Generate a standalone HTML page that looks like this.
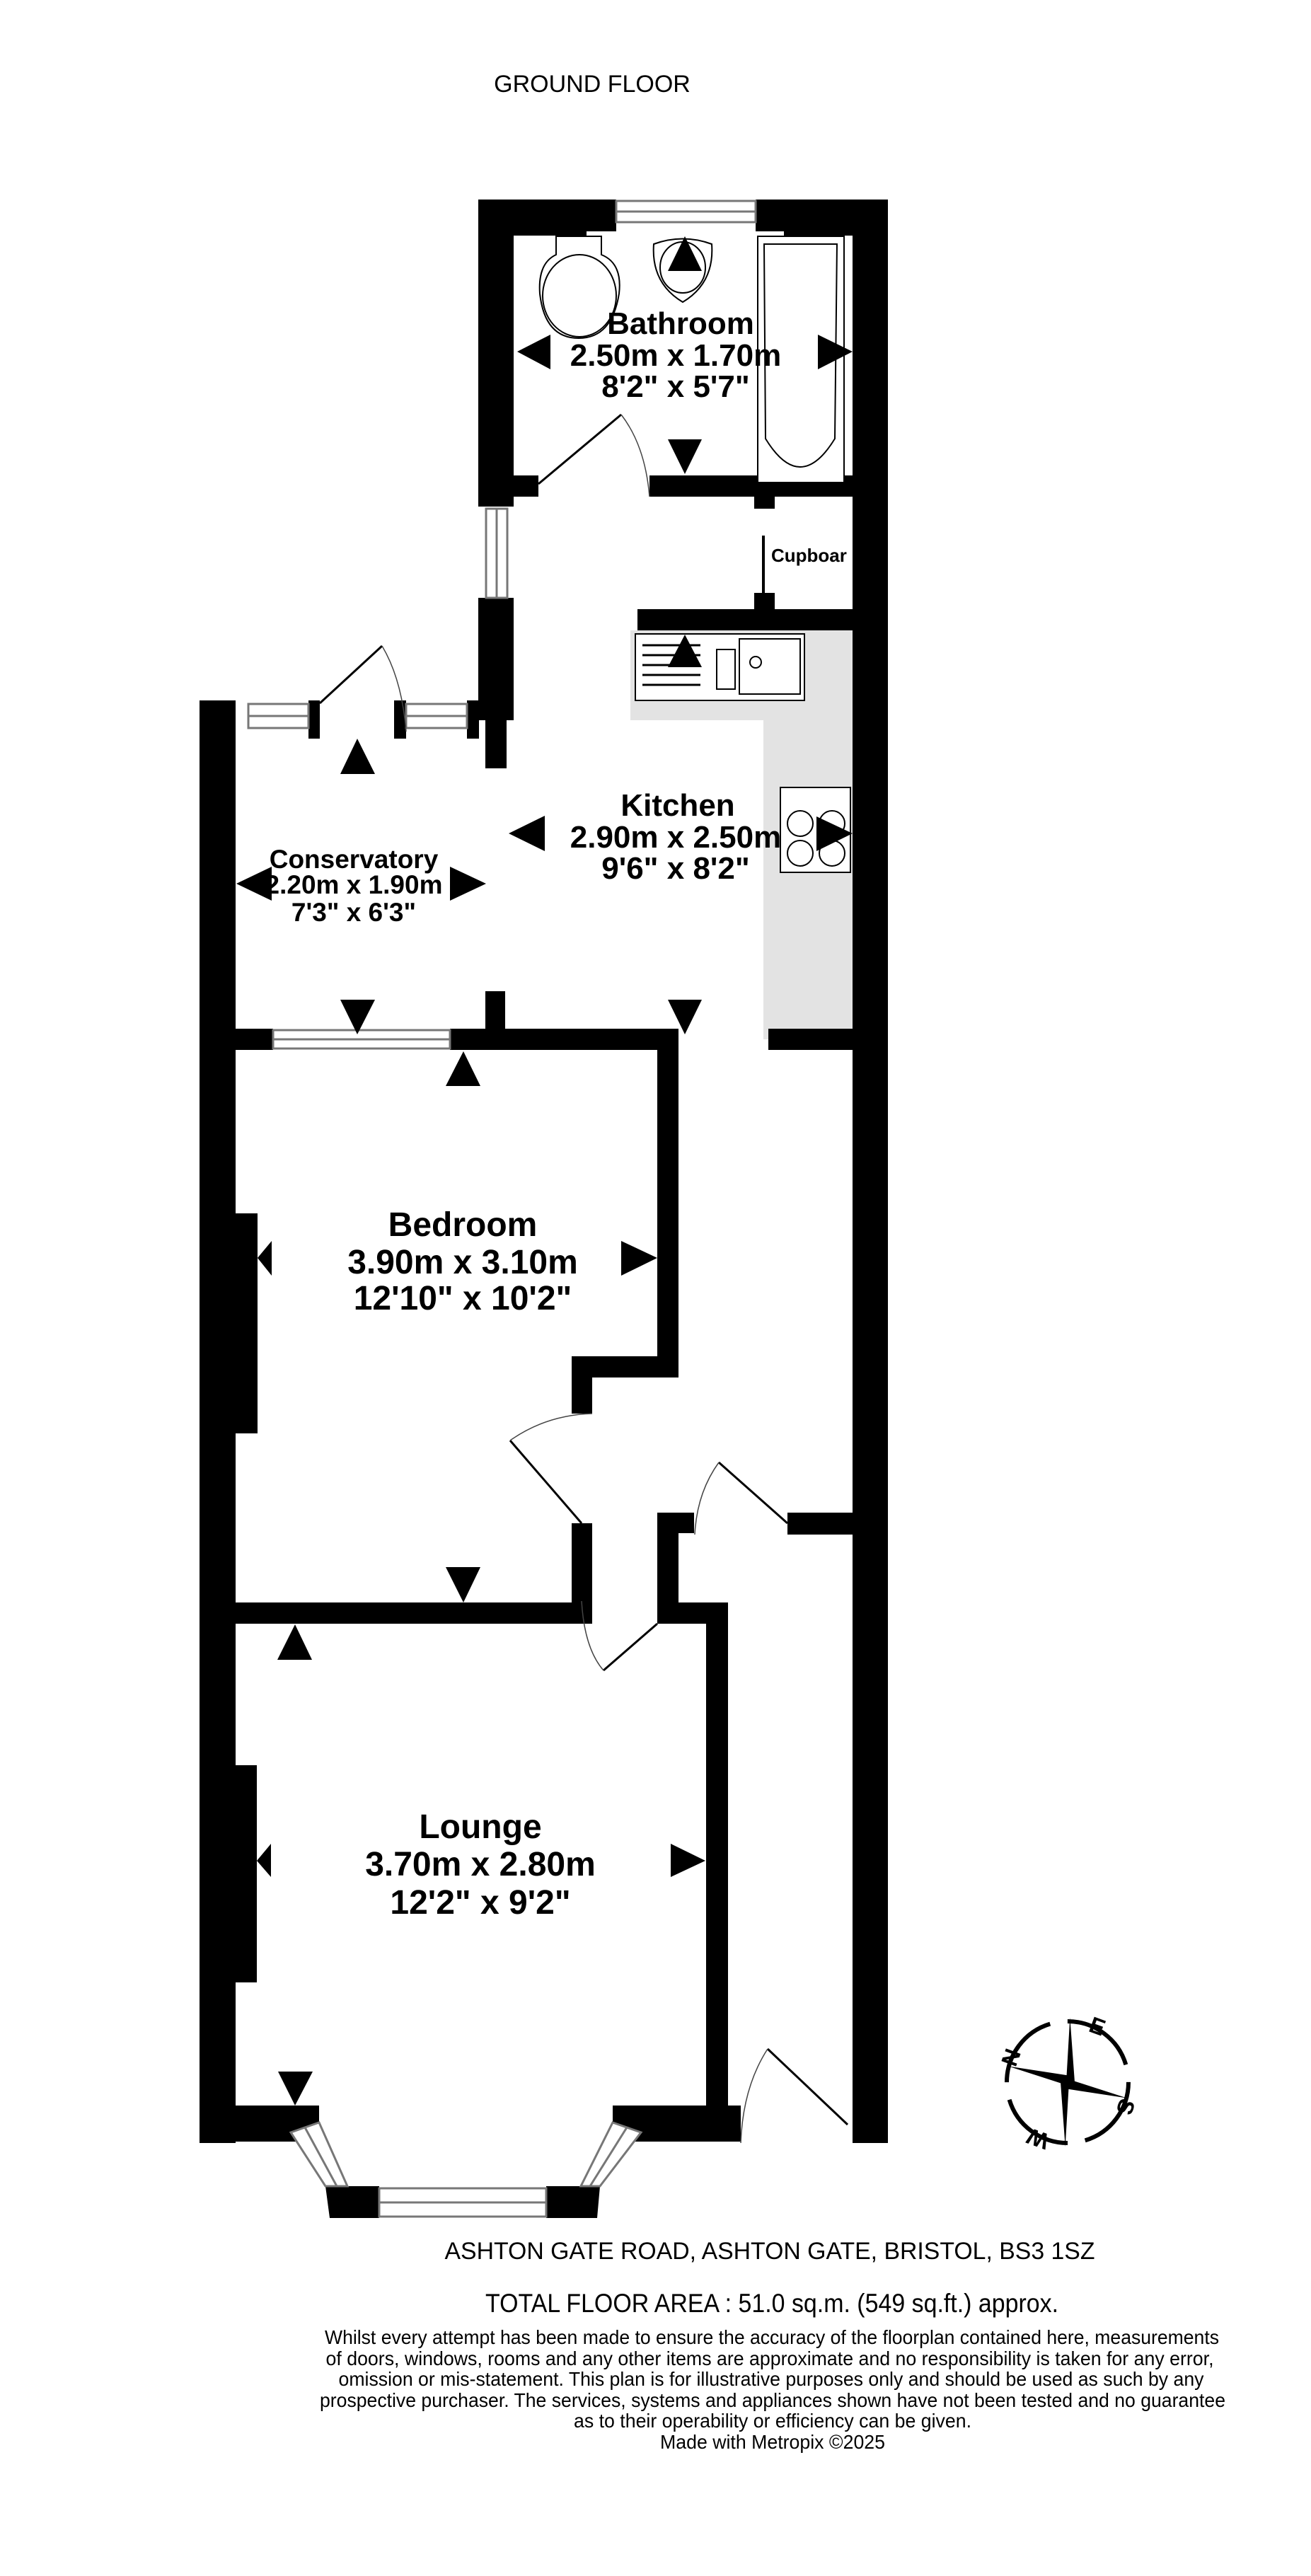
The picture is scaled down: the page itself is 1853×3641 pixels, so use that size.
<!DOCTYPE html>
<html><head><meta charset="utf-8"><style>html,body{margin:0;padding:0;background:#fff}svg{display:block}</style></head>
<body>
<svg width="1853" height="3641" viewBox="0 0 1853 3641" xmlns="http://www.w3.org/2000/svg" font-family="Liberation Sans, Arial, sans-serif" xml:space="preserve" style="white-space:pre">
<rect width="1853" height="3641" fill="#fff"/>
<text x="837" y="130" font-size="34" text-anchor="middle">GROUND FLOOR</text>

<!-- grey worktop -->
<rect x="891" y="891" width="314" height="127" fill="#e3e3e3"/>
<rect x="1079" y="891" width="126" height="578" fill="#e3e3e3"/>

<g fill="#000">
<!-- bathroom -->
<rect x="676" y="282" width="153" height="51"/>
<rect x="1108" y="282" width="147" height="51"/>
<rect x="829" y="282" width="42" height="45"/>
<rect x="1068" y="282" width="40" height="45"/>
<rect x="676" y="282" width="50" height="434"/>
<rect x="726" y="672" width="35" height="30"/>
<rect x="918" y="672" width="287" height="30"/>
<rect x="1066" y="702" width="29" height="17"/>
<rect x="1205" y="282" width="50" height="2747"/>
<rect x="676" y="845" width="50" height="173"/>
<rect x="686" y="1018" width="30" height="68"/>
<rect x="1077" y="757" width="4" height="90"/>
<rect x="1066" y="838" width="29" height="23"/>
<rect x="901" y="861" width="304" height="30"/>
<rect x="282" y="990" width="51" height="54"/>
<rect x="436" y="990" width="16" height="54"/>
<rect x="557" y="990" width="17" height="54"/>
<rect x="660" y="990" width="17" height="54"/>
<rect x="282" y="990" width="51" height="2039"/>
<rect x="333" y="1454" width="53" height="30"/>
<rect x="636" y="1454" width="323" height="30"/>
<rect x="686" y="1401" width="28" height="53"/>
<rect x="1086" y="1454" width="119" height="30"/>
<rect x="929" y="1454" width="30" height="493"/>
<rect x="808" y="1917" width="151" height="30"/>
<rect x="808" y="1917" width="29" height="81"/>
<rect x="808" y="2153" width="29" height="142"/>
<rect x="282" y="2265" width="555" height="30"/>
<rect x="929" y="2138" width="30" height="157"/>
<rect x="959" y="2138" width="22" height="29"/>
<rect x="1113" y="2138" width="92" height="31"/>
<rect x="333" y="1715" width="31" height="311"/>
<rect x="929" y="2265" width="100" height="30"/>
<rect x="998" y="2265" width="31" height="716"/>
<rect x="282" y="2976" width="169" height="51"/>
<rect x="866" y="2976" width="181" height="51"/>
<rect x="333" y="2495" width="30" height="307"/>
<polygon points="411,3014 451,2996 451,2976 411,2990"/>
<polygon points="460,3090 491,3090 487,3135 466,3135"/>
<rect x="487" y="3090" width="49" height="45"/>
<rect x="772" y="3090" width="49" height="45"/>
<polygon points="821,3090 848,3090 844,3135 821,3135"/>
<polygon points="866,2976 906,2990 906,3014 866,2996"/>
</g>

<g fill="#fff" stroke="#777" stroke-width="3">
<rect x="871" y="284" width="197" height="30"/>
<line x1="871" y1="299" x2="1068" y2="299"/>
<rect x="687" y="719" width="30" height="126"/>
<line x1="702" y1="719" x2="702" y2="845"/>
<rect x="351" y="995" width="85" height="34"/>
<line x1="351" y1="1012" x2="436" y2="1012"/>
<rect x="574" y="995" width="86" height="34"/>
<line x1="574" y1="1012" x2="660" y2="1012"/>
<rect x="386" y="1456" width="250" height="26"/>
<line x1="386" y1="1469" x2="636" y2="1469"/>
<rect x="536" y="3093" width="236" height="40"/>
<line x1="536" y1="3113" x2="772" y2="3113"/>
<polygon points="411,3014 451,3000 491,3090 460,3090"/>
<line x1="431" y1="3007" x2="476" y2="3090"/>
<polygon points="866,3000 906,3014 848,3090 821,3090"/>
<line x1="886" y1="3007" x2="834" y2="3090"/>
</g>

<g fill="none" stroke="#000" stroke-width="3">
<line x1="761" y1="684" x2="878" y2="586"/>
<path d="M878,586 Q912,630 918,702" stroke-width="1.5" stroke="#444"/>
<line x1="452" y1="994" x2="540" y2="913"/>
<path d="M540,913 Q568,960 574,1034" stroke-width="1.5" stroke="#444"/>
<line x1="721" y1="2036" x2="822" y2="2153"/>
<path d="M721,2036 Q772,2000 837,1998" stroke-width="1.5" stroke="#444"/>
<line x1="1016" y1="2067" x2="1113" y2="2153"/>
<path d="M1016,2067 Q985,2110 982,2169" stroke-width="1.5" stroke="#444"/>
<line x1="853" y1="2361" x2="929" y2="2295"/>
<path d="M822,2263 Q826,2330 853,2361" stroke-width="1.5" stroke="#444"/>
<line x1="1085" y1="2896" x2="1198" y2="3003"/>
<path d="M1085,2896 Q1050,2950 1047,3029" stroke-width="1.5" stroke="#444"/>
</g>

<g fill="#fff" stroke="#000" stroke-width="2">
<rect x="1071" y="334" width="122" height="348"/>
<path d="M1080,345 L1183,345 L1180,620 Q1131,700 1082,620 Z"/>
<path d="M786,334 L850,334 L850,360 Q880,372 875,415 Q865,478 818,478 Q770,478 763,415 Q760,372 786,360 Z"/>
<ellipse cx="819" cy="418" rx="52" ry="58"/>
<path d="M924,345 Q965,330 1006,345 Q1010,400 965,427 Q920,400 924,345 Z"/>
<ellipse cx="965" cy="378" rx="32" ry="36"/>
<rect x="898" y="896" width="239" height="94"/>
<rect x="1013" y="918" width="26" height="56"/>
<rect x="1045" y="903" width="86" height="78"/>
<circle cx="1068" cy="936" r="8"/>
<rect x="1103" y="1113" width="99" height="120"/>
<circle cx="1131" cy="1164" r="18"/><circle cx="1176" cy="1164" r="18"/>
<circle cx="1131" cy="1206" r="18"/><circle cx="1176" cy="1206" r="18"/>
</g>
<g stroke="#000" stroke-width="3">
<line x1="908" y1="912" x2="990" y2="912"/><line x1="908" y1="926" x2="990" y2="926"/>
<line x1="908" y1="940" x2="990" y2="940"/><line x1="908" y1="954" x2="990" y2="954"/>
<line x1="908" y1="968" x2="990" y2="968"/>
</g>

<g fill="#000">
<polygon points="944,383 992,383 968,334"/>
<polygon points="778,473 778,522 731,497"/>
<polygon points="1156,473 1156,522 1205,497"/>
<polygon points="944,621 992,621 968,670"/>
<polygon points="944,943 992,943 968,897"/>
<polygon points="770,1153 770,1203 719,1178"/>
<polygon points="1154,1154 1154,1203 1205,1178"/>
<polygon points="481,1094 530,1094 505,1044"/>
<polygon points="384,1225 384,1273 334,1249"/>
<polygon points="636,1225 636,1273 687,1249"/>
<polygon points="481,1413 530,1413 505,1462"/>
<polygon points="944,1413 992,1413 968,1462"/>
<polygon points="630,1535 679,1535 655,1486"/>
<polygon points="878,1754 878,1803 929,1778"/>
<polygon points="384,1754 384,1803 364,1778"/>
<polygon points="630,2215 679,2215 655,2265"/>
<polygon points="392,2346 441,2346 417,2296"/>
<polygon points="383,2606 383,2653 363,2630"/>
<polygon points="948,2606 948,2653 997,2630"/>
<polygon points="393,2928 442,2928 417,2976"/>
</g>

<g font-weight="bold" text-anchor="middle" fill="#000">
<text x="962" y="472" font-size="44">Bathroom</text>
<text x="955" y="517" font-size="44">2.50m  x 1.70m</text>
<text x="955" y="561" font-size="44">8'2"  x 5'7"</text>
<text x="1090" y="794" font-size="26" text-anchor="start">Cupboar</text>
<text x="958" y="1153" font-size="44">Kitchen</text>
<text x="955" y="1198" font-size="44">2.90m  x 2.50m</text>
<text x="955" y="1242" font-size="44">9'6"  x 8'2"</text>
<text x="500" y="1227" font-size="37">Conservatory</text>
<text x="500" y="1263" font-size="37">2.20m  x 1.90m</text>
<text x="500" y="1302" font-size="37">7'3"  x 6'3"</text>
<text x="654" y="1747" font-size="48">Bedroom</text>
<text x="654" y="1800" font-size="48">3.90m  x 3.10m</text>
<text x="654" y="1851" font-size="48">12'10"  x 10'2"</text>
<text x="679" y="2598" font-size="48">Lounge</text>
<text x="679" y="2651" font-size="48">3.70m  x 2.80m</text>
<text x="679" y="2705" font-size="48">12'2"  x 9'2"</text>
</g>
<rect x="282" y="1230" width="51" height="40" fill="#000"/>

<g transform="translate(1509,2943)">
<circle r="86" fill="none" stroke="#000" stroke-width="6" stroke-dasharray="110 25"/>
<polygon points="0,-10 16,-90 10,0 80,34 0,10 -16,90 -10,0 -80,-34" transform="rotate(-8)" fill="#000"/>
<g font-size="32" font-weight="bold" text-anchor="middle">
<text x="-80" y="-24" transform="rotate(-70 -80 -35)">N</text>
<text x="42" y="-68" transform="rotate(20 42 -79)">E</text>
<text x="82" y="46" transform="rotate(110 82 35)">S</text>
<text x="-42" y="91" transform="rotate(-160 -42 80)">W</text>
</g>
</g>

<g text-anchor="middle" fill="#000" style="white-space:normal">
<text x="1088" y="3193" font-size="34" textLength="919" lengthAdjust="spacingAndGlyphs">ASHTON GATE ROAD, ASHTON GATE, BRISTOL, BS3 1SZ</text>
<text x="1091" y="3268" font-size="37" textLength="810" lengthAdjust="spacingAndGlyphs">TOTAL FLOOR AREA : 51.0 sq.m. (549 sq.ft.) approx.</text>
<g font-size="28">
<text x="1091" y="3313" textLength="1264" lengthAdjust="spacingAndGlyphs">Whilst every attempt has been made to ensure the accuracy of the floorplan contained here, measurements</text>
<text x="1088" y="3343" textLength="1255" lengthAdjust="spacingAndGlyphs">of doors, windows, rooms and any other items are approximate and no responsibility is taken for any error,</text>
<text x="1090" y="3372" textLength="1223" lengthAdjust="spacingAndGlyphs">omission or mis-statement. This plan is for illustrative purposes only and should be used as such by any</text>
<text x="1092" y="3402" textLength="1280" lengthAdjust="spacingAndGlyphs">prospective purchaser. The services, systems and appliances shown have not been tested and no guarantee</text>
<text x="1092" y="3431" textLength="562" lengthAdjust="spacingAndGlyphs">as to their operability or efficiency can be given.</text>
<text x="1092" y="3461" textLength="318" lengthAdjust="spacingAndGlyphs">Made with Metropix ©2025</text>
</g>
</g>
</svg>
</body></html>
